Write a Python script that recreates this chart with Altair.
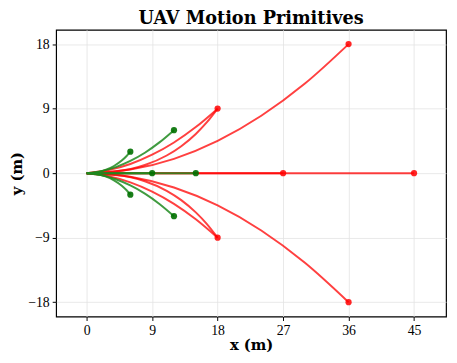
import altair as alt
import pandas as pd

# ---- curve samples (x, y in metres) ----
g_arc_up_x = [0, 1.30, 2.57, 3.75, 4.82, 5.49, 6.0]
g_arc_up_y = [0, 0.11, 0.45, 1.00, 1.75, 2.39, 3.0]
g_arc_dn_x = [0, 1.30, 2.57, 3.75, 4.82, 5.49, 6.0]
g_arc_dn_y = [0, -0.11, -0.45, -1.00, -1.75, -2.39, -3.0]
g_flat_up_x = [0, 2, 4, 6, 8, 10, 12]
g_flat_up_y = [0, 0.28, 0.85, 1.71, 2.85, 4.29, 6.0]
g_flat_dn_x = [0, 2, 4, 6, 8, 10, 12]
g_flat_dn_y = [0, -0.28, -0.85, -1.71, -2.85, -4.29, -6.0]
g_str1_x = [0, 9]
g_str1_y = [0, 0]
g_str2_x = [0, 15]
g_str2_y = [0, 0]

r_hook_up_x = [0, 4, 8, 11, 13, 15, 16.5, 18]
r_hook_up_y = [0, 0.23, 1.13, 2.46, 3.76, 5.47, 7.07, 9]
r_hook_dn_x = [0, 4, 8, 11, 13, 15, 16.5, 18]
r_hook_dn_y = [0, -0.23, -1.13, -2.46, -3.76, -5.47, -7.07, -9]
r_flat_up_x = [0, 3, 6, 9, 12, 15, 18]
r_flat_up_y = [0, 0.43, 1.28, 2.57, 4.28, 6.43, 9]
r_flat_dn_x = [0, 3, 6, 9, 12, 15, 18]
r_flat_dn_y = [0, -0.43, -1.28, -2.57, -4.28, -6.43, -9]
r_long_up_x = [0, 6, 12, 18, 24, 30, 36]
r_long_up_y = [0, 0.5, 2, 4.5, 8, 12.5, 18]
r_long_dn_x = [0, 6, 12, 18, 24, 30, 36]
r_long_dn_y = [0, -0.5, -2, -4.5, -8, -12.5, -18]
r_str1_x = [0, 27]
r_str1_y = [0, 0]
r_str2_x = [0, 45]
r_str2_y = [0, 0]

# endpoints
green_end_x = [6, 6, 12, 12, 9, 15]
green_end_y = [3, -3, 6, -6, 0, 0]
red_end_x = [18, 18, 36, 36, 27, 45]
red_end_y = [9, -9, 18, -18, 0, 0]

x_ticks = [0, 9, 18, 27, 36, 45]
y_ticks = [-18, -9, 0, 9, 18]

red_curves = [
    ("r_hook_up", r_hook_up_x, r_hook_up_y), ("r_hook_dn", r_hook_dn_x, r_hook_dn_y),
    ("r_flat_up", r_flat_up_x, r_flat_up_y), ("r_flat_dn", r_flat_dn_x, r_flat_dn_y),
    ("r_long_up", r_long_up_x, r_long_up_y), ("r_long_dn", r_long_dn_x, r_long_dn_y),
    ("r_str1", r_str1_x, r_str1_y), ("r_str2", r_str2_x, r_str2_y),
]
green_curves = [
    ("g_arc_up", g_arc_up_x, g_arc_up_y), ("g_arc_dn", g_arc_dn_x, g_arc_dn_y),
    ("g_flat_up", g_flat_up_x, g_flat_up_y), ("g_flat_dn", g_flat_dn_x, g_flat_dn_y),
    ("g_str1", g_str1_x, g_str1_y), ("g_str2", g_str2_x, g_str2_y),
]


def to_df(curves):
    rows = []
    for name, xs, ys in curves:
        for i, (x, y) in enumerate(zip(xs, ys)):
            rows.append({"curve": name, "i": i, "x": x, "y": y})
    return pd.DataFrame(rows)


red_df = to_df(red_curves)
green_df = to_df(green_curves)
red_pts = pd.DataFrame({"x": red_end_x, "y": red_end_y})
green_pts = pd.DataFrame({"x": green_end_x, "y": green_end_y})

FONT = "Liberation Serif"
TFONT = "DejaVu Serif"

xs = alt.X("x:Q", scale=alt.Scale(domain=[-4.2, 49.4], nice=False, zero=False),
           axis=alt.Axis(values=x_ticks, title="x (m)", format="d"))
ys = alt.Y("y:Q", scale=alt.Scale(domain=[-20, 20], nice=False, zero=False),
           axis=alt.Axis(values=y_ticks, title="y (m)", format="d"))

red_lines = alt.Chart(red_df).mark_line(
    color="#ff0000", opacity=0.75, strokeWidth=2, interpolate="monotone"
).encode(x=xs, y=ys, detail="curve:N", order="i:Q")

green_lines = alt.Chart(green_df).mark_line(
    color="#1f8a1f", opacity=0.85, strokeWidth=2, interpolate="monotone"
).encode(x=xs, y=ys, detail="curve:N", order="i:Q")

red_dots = alt.Chart(red_pts).mark_circle(color="#ff0000", size=40, opacity=0.85).encode(x=xs, y=ys)
green_dots = alt.Chart(green_pts).mark_circle(color="#007000", size=40, opacity=0.9).encode(x=xs, y=ys)

chart = alt.layer(red_lines, green_lines, red_dots, green_dots).properties(
    width=397, height=292,
    title=alt.TitleParams("UAV Motion Primitives", font=TFONT, fontSize=18,
                          fontWeight="bold", anchor="middle", offset=2,
                          color="black"),
    autosize=alt.AutoSizeParams(type="none"),
    padding={"left": 49, "top": 19, "right": 3, "bottom": 36},
).configure_axis(
    labelFont=FONT, labelFontSize=14, labelColor="black",
    titleFont=TFONT, titleFontSize=15, titleFontWeight="bold", titleColor="black",
    grid=True, gridColor="#e3e3e3", gridWidth=0.8,
    domain=False, tickColor="black", tickSize=4, tickWidth=1,
    labelPadding=3,
).configure_axisX(titlePadding=1).configure_axisY(titlePadding=3).configure_view(
    stroke="black", strokeWidth=1.2
)

chart.save("out.html", embed_options={"renderer": "svg", "actions": False})
